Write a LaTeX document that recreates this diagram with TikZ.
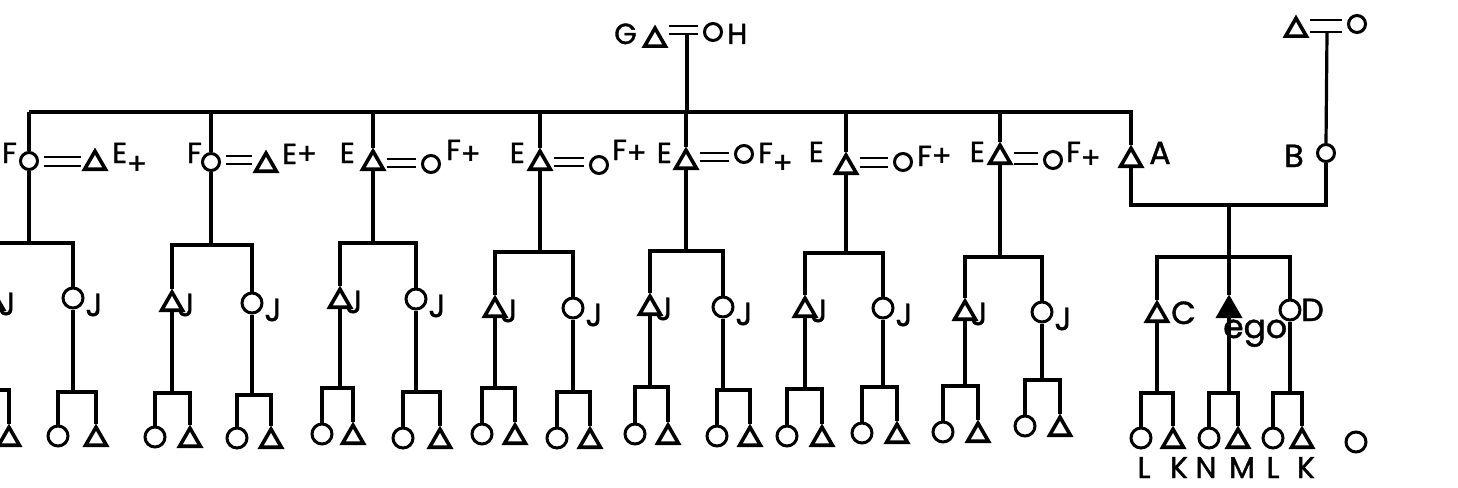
\documentclass[tikz,border=0pt]{standalone}
\usepackage{fontspec}
\setmainfont{Poppins}
\newfontfamily\labfont{Poppins}[FakeBold=1.2]
\usetikzlibrary{shapes.geometric}
\tikzset{
  male/.style={regular polygon, regular polygon sides=3, draw=black, line width=3.6pt, minimum size=24pt, inner sep=0pt, yshift=-3.2pt},
  fem/.style={circle, draw=black, line width=3pt, minimum size=20pt, inner sep=0pt},
  fems/.style={fem, minimum size=17pt},
  egon/.style={male, fill=black},
  ln/.style={line width=3.2pt},
  eq/.style={line width=2.6pt, shorten <=5pt, shorten >=5pt},
  lab/.style={font=\labfont\fontsize{29}{29}\selectfont, inner sep=0pt, text=black},
  bigl/.style={lab, font=\labfont\fontsize{32}{32}\selectfont},
  jmale/.style={bigl, xshift=14pt, yshift=-4pt},
  jfem/.style={bigl, xshift=21pt, yshift=-7pt},
}
\newcommand\kidpair[5]{%
  \coordinate (#1b) at (#1.south |- 0,#2);
  \node[fem] (#1o) at (#3,#5) {};
  \node[male] (#1m) at (#4,#5) {};
  \draw[ln] (#1.south) -- (#1b);
  \draw[ln] (#1o.north) -- (#1o.north |- #1b) -- (#1m.north |- #1b) -- (#1m.north);
}
\newcommand\kinunit[8]{%
  \node[#2] (#1) at (#3,#4) {};
  \node[j#2] (#1J) at (#3,#4) {J};
  \kidpair{#1}{#5}{#6}{#7}{#8}
}
\begin{document}
\begin{tikzpicture}[x=1pt,y=-1pt]
\useasboundingbox (0,0) rectangle (1458,487);
\fill[white] (0,0) rectangle (1458,487);
\clip (0,0) rectangle (1458,487);

% top couple
\node[male] (G) at (655,37) {};
\node[fems] (H) at (713,32) {};
\node[lab, anchor=base east] (Gl) at (637,44) {G};
\node[lab, anchor=base west] (Hl) at (727,44) {H};
\draw[eq] (G.east |- 0,26) -- (H.west |- 0,26);
\draw[eq] (G.east |- 0,34) -- (H.west |- 0,34);
\coordinate (GH) at (687,34);
\coordinate (GHt) at (687,112);
\draw[ln] (GH) -- (GHt);

% top right couple
\node[male] (TRm) at (1296,27) {};
\node[fems] (TRf) at (1357,24) {};
\draw[eq] (TRm.east |- 0,20) -- (TRf.west |- 0,20);
\draw[eq] (TRm.east |- 0,32) -- (TRf.west |- 0,32);
\coordinate (TRc) at (1327,32);

% generation 2
\node[fems] (P1) at (29,161) {};
\node[male] (S1) at (95,160) {};
\node[lab, anchor=base east] (P1l) at (17,163) {F};
\node[lab, anchor=base west] (S1l) at (112,163) {E\raisebox{-11pt}{+}};
\draw[eq] (P1.east |- 0,157) -- (S1.west |- 0,157);
\draw[eq] (P1.east |- 0,166) -- (S1.west |- 0,166);

\node[fems] (P2) at (211,162) {};
\node[male] (S2) at (266,162) {};
\node[lab, anchor=base east] (P2l) at (202,163) {F};
\node[lab, anchor=base west] (S2l) at (282,164) {E+};
\draw[eq] (P2.east |- 0,156) -- (S2.west |- 0,156);
\draw[eq] (P2.east |- 0,164) -- (S2.west |- 0,164);

\node[male] (P3) at (373,160) {};
\node[fems] (S3) at (431,164) {};
\node[lab, anchor=base east] (P3l) at (355,163) {E};
\node[lab, anchor=base west] (S3l) at (446,160) {F\raisebox{-4pt}{+}};
\draw[eq] (P3.east |- 0,159) -- (S3.west |- 0,159);
\draw[eq] (P3.east |- 0,167) -- (S3.west |- 0,167);

\node[male] (P4) at (540,160) {};
\node[fems] (S4) at (599,165) {};
\node[lab, anchor=base east] (P4l) at (525,163) {E};
\node[lab, anchor=base west] (S4l) at (612,160) {F\raisebox{-3pt}{+}};
\draw[eq] (P4.east |- 0,158) -- (S4.west |- 0,158);
\draw[eq] (P4.east |- 0,166) -- (S4.west |- 0,166);

\node[male] (P5) at (686,159) {};
\node[fems] (S5) at (744,154) {};
\node[lab, anchor=base east] (P5l) at (672,163) {E};
\node[lab, anchor=base west] (S5l) at (758,163) {F\raisebox{-10pt}{+}};
\draw[eq] (P5.east |- 0,153) -- (S5.west |- 0,153);
\draw[eq] (P5.east |- 0,161) -- (S5.west |- 0,161);

\node[male] (P6) at (846,164) {};
\node[fems] (S6) at (903,162) {};
\node[lab, anchor=base east] (P6l) at (824,162) {E};
\node[lab, anchor=base west] (S6l) at (917,166) {F+};
\draw[eq] (P6.east |- 0,158) -- (S6.west |- 0,158);
\draw[eq] (P6.east |- 0,167) -- (S6.west |- 0,167);

\node[male] (P7) at (1000,154) {};
\node[fems] (S7) at (1053,160) {};
\node[lab, anchor=base east] (P7l) at (985,162) {E};
\node[lab, anchor=base west] (S7l) at (1066,162) {F\raisebox{-6pt}{+}};
\draw[eq] (P7.east |- 0,153) -- (S7.west |- 0,153);
\draw[eq] (P7.east |- 0,164) -- (S7.west |- 0,164);

\node[male] (A) at (1131,157) {};
\node[bigl, anchor=base west] (Al) at (1149,164) {A};
\node[fems] (B) at (1326,153) {};
\node[bigl, anchor=base east] (Bl) at (1304,167) {B};
\draw[ln] (TRc) -- (B.north);

% top bar
\foreach \i in {1,...,7} {
  \coordinate (T\i) at (P\i.north |- 0,112);
  \draw[ln] (T\i) -- (P\i.north);
}
\coordinate (T8) at (A.north |- 0,112);
\draw[ln] (T1) -- (T8) -- (A.north);

% generation 3 and 4
\kinunit{L1}{male}{-7}{300}{390}{-26}{9}{436}
\kinunit{R1}{fem}{73}{298}{392}{58}{96}{436}
\kinunit{L2}{male}{172}{301}{393}{155}{190}{437}
\kinunit{R2}{fem}{252}{303}{395}{237}{271}{438}
\kinunit{L3}{male}{340}{298}{388}{322}{353}{434}
\kinunit{R3}{fem}{416}{299}{392}{403}{440}{438}
\kinunit{L4}{male}{495}{307}{388}{482}{515}{434}
\kinunit{R4}{fem}{573}{308}{392}{557}{590}{438}
\kinunit{L5}{male}{650}{305}{387}{635}{668}{434}
\kinunit{R5}{fem}{723}{307}{390}{717}{750}{436}
\kinunit{L6}{male}{805}{307}{389}{787}{822}{436}
\kinunit{R6}{fem}{883}{308}{387}{862}{897}{433}
\kinunit{L7}{male}{965}{310}{386}{943}{978}{432}
\kinunit{R7}{fem}{1042}{312}{380}{1025}{1060}{426}

\foreach \i/\sb in {1/243,2/245,3/243,4/252,5/251,6/253,7/257}{
  \coordinate (sb\i) at (P\i.south |- 0,\sb);
  \draw[ln] (P\i.south) -- (sb\i);
  \draw[ln] (L\i.north) -- (L\i.north |- sb\i) -- (R\i.north |- sb\i) -- (R\i.north);
}

% right family
\coordinate (AB) at (1229,205);
\draw[ln] (A.south) -- (A.south |- AB) -- (B.south |- AB) -- (B.south);
\coordinate (CD) at (1229,257);
\draw[ln] (AB) -- (CD);
\node[male] (C) at (1157,312) {};
\node[egon] (ego) at (1229,307) {};
\node[fem] (D) at (1290,310) {};
\draw[ln] (C.north) -- (C.north |- CD) -- (D.north |- CD) -- (D.north);
\draw[ln] (CD) -- (ego.north);
\kidpair{C}{393}{1141}{1173}{438}
\kidpair{ego}{393}{1209}{1238}{438}
\kidpair{D}{393}{1273}{1302}{438}
\node[bigl, anchor=base west] (Cl) at (1171,324) {C};
\node[lab, anchor=base west, font=\labfont\fontsize{33}{33}\selectfont] (egol) at (1223,338) {ego};
\node[bigl, anchor=base west] (Dl) at (1301,321) {D};
\foreach \n/\x/\t in {k1/1144/L,k2/1179/K,k3/1206/N,k4/1242/M,k5/1273/L,k6/1306/K}{
  \node[lab, anchor=base, font=\labfont\fontsize{30}{30}\selectfont] (\n) at (\x,478) {\t};
}
\node[fem] (iso) at (1356,442) {};
\end{tikzpicture}
\end{document}
